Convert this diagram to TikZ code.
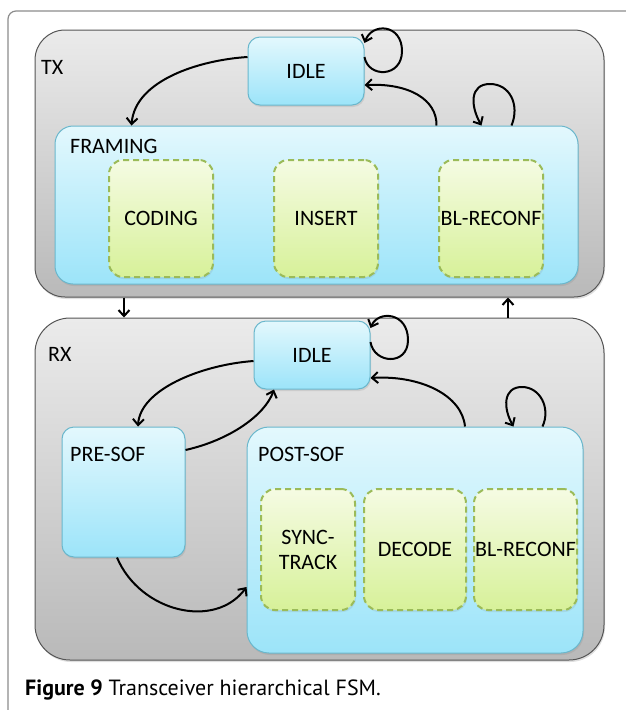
\documentclass[tikz,border=0pt]{standalone}
\usepackage{fontspec}
\setmainfont{Carlito}
\newfontfamily\capfont{PT Sans}
\usetikzlibrary{positioning,shadows,arrows.meta}
\definecolor{frameline}{HTML}{8C8C8C}
\definecolor{outerline}{HTML}{555555}
\definecolor{outertop}{HTML}{EBEBEB}
\definecolor{outerbot}{HTML}{B9B9B9}
\definecolor{stateline}{HTML}{6AB7CC}
\definecolor{statetop}{HTML}{E3F8FD}
\definecolor{statebot}{HTML}{9CE4F9}
\definecolor{subline}{HTML}{9BBB59}
\definecolor{subtop}{HTML}{F5FBE3}
\definecolor{subbot}{HTML}{D7F199}
\tikzset{
	machine/.style = {
		rectangle,
		draw           = outerline,
		line width     = 1pt,
		top color      = outertop,
		bottom color   = outerbot,
		inner sep      = 0pt,
		drop shadow    = {opacity = 0.25, shadow xshift = 1pt, shadow yshift = -2pt}
	},
	state/.style = {
		rectangle,
		draw           = stateline,
		line width     = 1pt,
		top color      = statetop,
		bottom color   = statebot,
		rounded corners = 12pt,
		inner sep      = 0pt,
		font           = \fontsize{22}{24}\selectfont,
		drop shadow    = {opacity = 0.2, shadow xshift = 1pt, shadow yshift = -2pt}
	},
	substate/.style = {
		rectangle,
		draw           = subline,
		line width     = 2pt,
		dash pattern   = on 6pt off 4pt,
		top color      = subtop,
		bottom color   = subbot,
		rounded corners = 14pt,
		inner sep      = 0pt,
		align          = center,
		font           = \fontsize{22}{25}\selectfont,
		drop shadow    = {opacity = 0.15, shadow xshift = 1pt, shadow yshift = -2pt}
	},
	boxname/.style = {anchor = west, inner sep = 0pt, font = \fontsize{22}{24}\selectfont},
	trans/.style   = {draw, line width = 2pt, -{Straight Barb[length = 6pt, width = 11pt]}}
}

\begin{document}
\begin{tikzpicture}[x = 1pt, y = -1pt]
	\useasboundingbox (0,0) rectangle (626,710);
	% figure frame
	\draw[frameline, line width = 1.2pt, rounded corners = 8pt] (8,712) -- (8,11) -- (630,11);
	
	% transmitter
	\node(tx) [machine, rounded corners = 30pt, minimum width = 569pt, minimum height = 267pt] at (319.5,163.5) {};
	\node(txname) [boxname] at (41,67) {TX};
	\node(txidle) [state, minimum width = 116pt, minimum height = 68pt] at (306,71) {IDLE};
	\node(framing) [state, rounded corners = 18pt, minimum width = 523pt, minimum height = 158pt] at (316.5,205) {};
	\node(framingname) [boxname] at (70,146) {FRAMING};
	\node(coding) [substate, minimum width = 104pt, minimum height = 117pt] at (161,218.5) {CODING};
	\node(insert) [substate, minimum width = 104pt, minimum height = 117pt] at (326,218.5) {INSERT};
	\node(txreconf) [substate, minimum width = 104pt, minimum height = 117pt] at (491,218.5) {BL-RECONF};
	
	% receiver
	\node(rx) [machine, rounded corners = 35pt, minimum width = 569pt, minimum height = 342pt] at (319.5,489) {};
	\node(rxname) [boxname] at (48,354) {RX};
	\node(rxidle) [state, minimum width = 116pt, minimum height = 68pt] at (312,355) {IDLE};
	\node(presof) [state, minimum width = 123pt, minimum height = 130pt] at (123.5,492) {};
	\node(presofname) [boxname] at (70,454) {PRE-SOF};
	\node(postsof) [state, rounded corners = 22pt, minimum width = 336pt, minimum height = 226pt] at (415,540) {};
	\node(postsofname) [boxname] at (258,454) {POST-SOF};
	\node(sync) [substate, minimum width = 94pt, minimum height = 121pt] at (308,549.5) {SYNC-\\TRACK};
	\node(decode) [substate, minimum width = 102pt, minimum height = 121pt] at (415,549.5) {DECODE};
	\node(rxreconf) [substate, minimum width = 103pt, minimum height = 121pt] at (525.5,549.5) {BL-RECONF};
	
	% transitions TX
	\draw[trans] ([yshift=14pt]txidle.east) .. controls (368,78) and (402,78) .. (402,51)
		.. controls (402,24) and (372,22) .. ([yshift=28pt]txidle.east);
	\draw[trans] ([yshift=14pt]txidle.west) .. controls (200,60) and (135,80) .. ([xshift=77pt]framing.north west);
	\draw[trans] ([xshift=382pt]framing.north west) .. controls (437,100) and (410,83) .. ([yshift=-14pt]txidle.east);
	\draw[trans] ([xshift=457pt]framing.north west) .. controls (520,105) and (510,84) .. (490,84)
		.. controls (470,84) and (470,105) .. ([xshift=427pt]framing.north west);
	
	% between TX and RX
	\draw[trans] ([xshift=-195.5pt]tx.south) -- ([xshift=-195.5pt]rx.north);
	\draw[trans] ([xshift=188.5pt]rx.north) -- ([xshift=188.5pt]tx.south);
	
	% transitions RX
	\draw[trans] ([yshift=13pt]rxidle.east) .. controls (374,364) and (408,366) .. (408,340)
		.. controls (408,312) and (378,310) .. ([yshift=27pt]rxidle.east);
	\draw[trans] ([yshift=-6pt]rxidle.west) .. controls (200,365) and (140,390) .. ([xshift=14.5pt]presof.north);
	\draw[trans] ([yshift=42pt]presof.east) .. controls (230,440) and (265,415) .. ([xshift=-38pt]rxidle.south);
	\draw[trans] ([xshift=50pt]postsof.north) .. controls (462,395) and (420,375) .. ([yshift=-23pt]rxidle.east);
	\draw[trans] ([xshift=296pt]postsof.north west) .. controls (551,408) and (540,387) .. (522,387)
		.. controls (503,387) and (503,408) .. ([xshift=267pt]postsof.north west);
	\draw[trans] ([xshift=-6.5pt]presof.south) .. controls (140,612) and (215,630) .. ([yshift=-47pt]postsof.west);
	
	% caption
	\node(caption) [anchor = west, inner sep = 0pt, font = \capfont\fontsize{22}{24}\selectfont] at (25,690) {\textbf{Figure 9} Transceiver hierarchical FSM.};
\end{tikzpicture}
\end{document}
